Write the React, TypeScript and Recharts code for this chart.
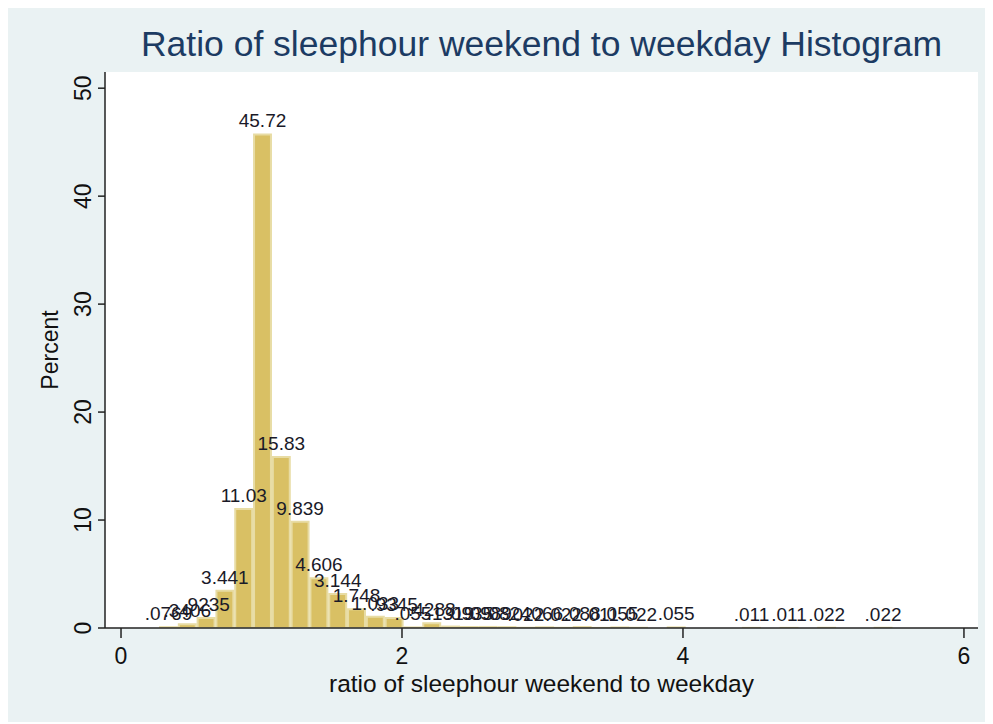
import React from "react";
import { BarChart, Bar, XAxis, YAxis, CartesianGrid, LabelList } from "recharts";

// histogram bins: 39 equal bins starting at BIN_START
const BIN_START = 0.2705;
const BIN_WIDTH = 0.13385;

// percent per bin
const PERCENT = [
  0.0769, 0.3406, 0.9235, 3.441, 11.03, 45.72, 15.83, 9.839, 4.606, 3.144,
  1.748, 1.033, 0.9345, 0.055, 0.4288, 0.1319, 0.0935, 0.0989, 0.0824, 0.022,
  0.066, 0.022, 0.088, 0.011, 0.055, 0.022, 0, 0.055, 0, 0,
  0, 0.011, 0, 0.011, 0, 0.022, 0, 0, 0.022,
];

// value labels as Stata prints them (empty for empty bins)
const BAR_LABELS = [
  ".0769", ".3406", ".9235", "3.441", "11.03", "45.72", "15.83", "9.839", "4.606", "3.144",
  "1.748", "1.033", ".9345", ".055", ".4288", ".1319", ".0935", ".0989", ".0824", ".022",
  ".066", ".022", ".088", ".011", ".055", ".022", "", ".055", "", "",
  "", ".011", "", ".011", "", ".022", "", "", ".022",
];

const X_TICKS = [0, 2, 4, 6];
const Y_TICKS = [0, 10, 20, 30, 40, 50];

const X_MIN = -0.114;
const X_MAX = 6.1;
const Y_MAX = 51.5;

const BG = "#eaf2f3";
const FONT = "'Liberation Sans', Arial, sans-serif";

const data = PERCENT.map((p, i) => ({
  x: BIN_START + (i + 0.5) * BIN_WIDTH,
  pct: p,
  label: BAR_LABELS[i],
}));

const W = 980;
const H = 714;
const margin = { top: 64, right: 10, left: 37, bottom: 34 };
const Y_AXIS_W = 60;
const plotW = W - margin.left - margin.right - Y_AXIS_W;
const barPx = (BIN_WIDTH * plotW) / (X_MAX - X_MIN);

const YTick = (props: any) => {
  const { x, y, payload } = props;
  const bx = x - 5;
  return (
    <text
      x={bx}
      y={y}
      transform={`rotate(-90, ${bx}, ${y})`}
      textAnchor="middle"
      fontSize={23}
      fontFamily={FONT}
      fill="#111"
    >
      {payload.value}
    </text>
  );
};

const XTick = (props: any) => {
  const { x, y, payload } = props;
  return (
    <text x={x} y={y} dy="0.71em" textAnchor="middle" fontSize={23} fontFamily={FONT} fill="#111">
      {payload.value}
    </text>
  );
};

const YTitle = (props: any) => {
  const vb = props.viewBox || {};
  const x = vb.x + 13;
  const y = vb.y + vb.height / 2;
  return (
    <text x={x} y={y} transform={`rotate(-90, ${x}, ${y})`} textAnchor="middle" fontSize={23} fontFamily={FONT} fill="#111">
      Percent
    </text>
  );
};

const XTitle = (props: any) => {
  const vb = props.viewBox || {};
  return (
    <text x={vb.x + vb.width / 2} y={vb.y + 64} textAnchor="middle" fontSize={24.5} fontFamily={FONT} fill="#111">
      ratio of sleephour weekend to weekday
    </text>
  );
};

export default function App() {
  return (
    <div style={{ position: "relative", width: W, height: H, background: BG, fontFamily: FONT }}>
      <div
        style={{
          position: "absolute",
          left: margin.left + Y_AXIS_W,
          width: plotW,
          top: 19,
          textAlign: "center",
          fontSize: 35.5,
          lineHeight: "35px",
          color: "#1c3b63",
          whiteSpace: "nowrap",
        }}
      >
        Ratio of sleephour weekend to weekday Histogram
      </div>
      <BarChart width={W} height={H} data={data} margin={margin} barCategoryGap={0} barGap={0}>
        <rect x={margin.left + Y_AXIS_W} y={margin.top} width={plotW} height={H - margin.top - margin.bottom - 60} fill="#fff" />
        <CartesianGrid vertical={false} stroke={BG} strokeWidth={1.5} fill="#fff" />
        <XAxis
          type="number"
          dataKey="x"
          domain={[X_MIN, X_MAX]}
          ticks={X_TICKS}
          allowDataOverflow
          height={60}
          tickSize={10}
          tickMargin={10}
          tick={<XTick />}
          axisLine={{ stroke: "#222", strokeWidth: 1.5 }}
          tickLine={{ stroke: "#222", strokeWidth: 1.5 }}
          label={<XTitle />}
        />
        <YAxis
          domain={[0, Y_MAX]}
          ticks={Y_TICKS}
          allowDataOverflow
          width={Y_AXIS_W}
          tickSize={7}
          tick={<YTick />}
          axisLine={{ stroke: "#222", strokeWidth: 1.5 }}
          tickLine={{ stroke: "#222", strokeWidth: 1.5 }}
          label={<YTitle />}
        />
        <Bar
          dataKey="pct"
          fill="#d9c064"
          stroke="#e8dca4"
          strokeWidth={2}
          barSize={barPx}
          isAnimationActive={false}
        >
          <LabelList dataKey="label" position="top" offset={7} fontSize={19} fontFamily={FONT} fill="#1a1a28" />
        </Bar>
      </BarChart>
    </div>
  );
}
